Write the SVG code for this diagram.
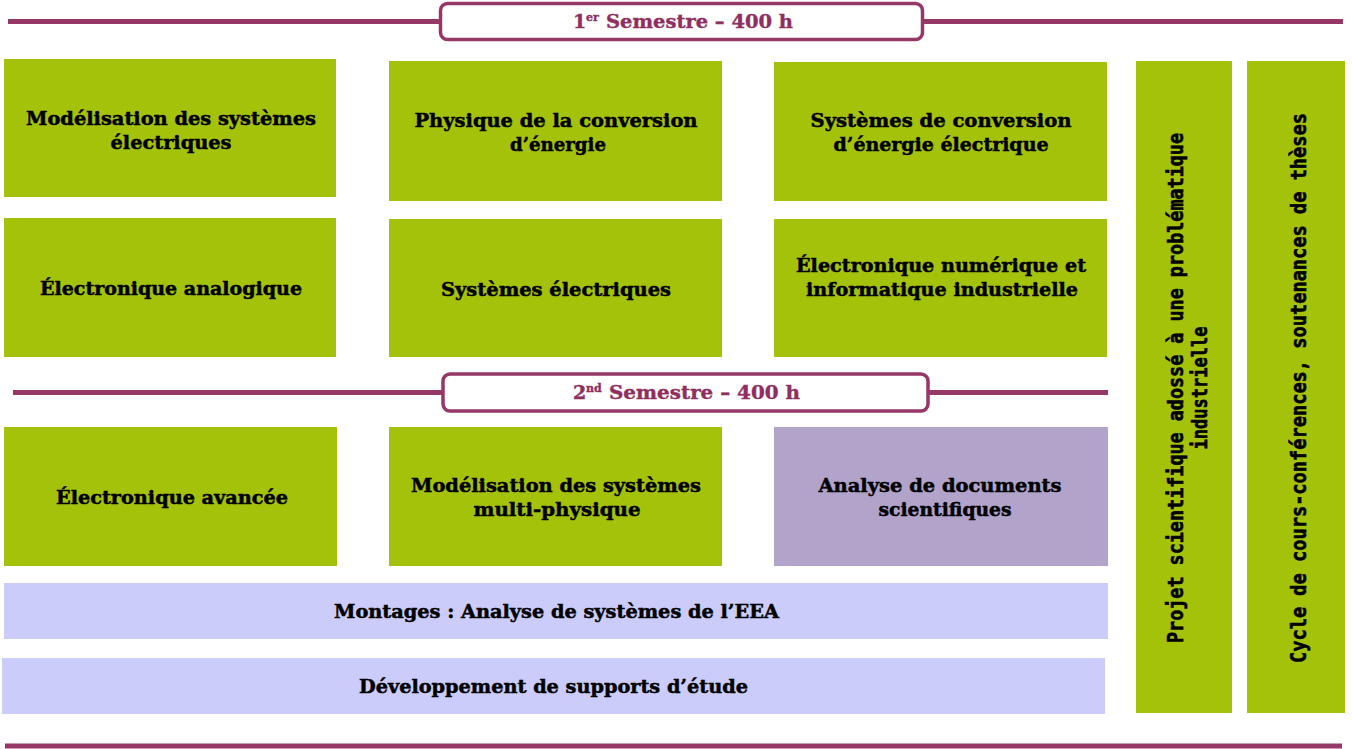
<svg xmlns="http://www.w3.org/2000/svg" width="1352" height="749" viewBox="0 0 1352 749">
<style>
.g{fill:#A5C20A}
.p{fill:#B1A3C9}
.l{fill:#CCCCFB}
.t{font-family:"DejaVu Serif","Liberation Serif",serif;font-weight:bold;font-size:19px;fill:#000;stroke:#000;stroke-width:0.5;text-anchor:middle}
.h{font-family:"DejaVu Serif","Liberation Serif",serif;font-weight:bold;font-size:19px;fill:#8E2F60;stroke:#8E2F60;stroke-width:0.4}
.v{font-family:"DejaVu Sans Mono","Liberation Mono",monospace;font-weight:bold;font-size:22px;fill:#000;stroke:#000;stroke-width:0.6;text-anchor:middle}
.rule{stroke:#963867;stroke-width:5;fill:none}
.hb{stroke:#963867;stroke-width:3.5;fill:#fff}
</style>
<rect width="1352" height="749" fill="#fff"/>
<g id="rules">
<line class="rule" x1="8" y1="21.5" x2="1343" y2="21.5"/>
<line class="rule" x1="13" y1="392.5" x2="1108" y2="392.5"/>
<line class="rule" x1="5" y1="746" x2="1342" y2="746"/>
</g>
<g id="header1">
<rect class="hb" x="440.5" y="3.5" width="482" height="36" rx="7"/>
<text class="h" x="573" y="28">1</text>
<text class="h" x="586" y="21" style="font-size:11px">er</text>
<text class="h" x="606" y="28" textLength="187" lengthAdjust="spacingAndGlyphs">Semestre – 400 h</text>
</g>
<g id="header2">
<rect class="hb" x="443" y="374" width="485" height="37" rx="7"/>
<text class="h" x="573" y="399">2</text>
<text class="h" x="586" y="392" style="font-size:11px">nd</text>
<text class="h" x="609" y="399" textLength="191" lengthAdjust="spacingAndGlyphs">Semestre – 400 h</text>
</g>
<g id="n1"><rect class="g" x="4" y="59" width="332" height="138"/>
<text class="t" x="171" y="125" textLength="290" lengthAdjust="spacingAndGlyphs">Modélisation des systèmes</text>
<text class="t" x="171" y="149" textLength="121" lengthAdjust="spacingAndGlyphs">électriques</text></g>
<g id="n2"><rect class="g" x="389" y="61" width="333" height="140"/>
<text class="t" x="556" y="127" textLength="283" lengthAdjust="spacingAndGlyphs">Physique de la conversion</text>
<text class="t" x="558" y="151" textLength="96" lengthAdjust="spacingAndGlyphs">d’énergie</text></g>
<g id="n3"><rect class="g" x="774" y="62" width="333" height="139"/>
<text class="t" x="941" y="127" textLength="261" lengthAdjust="spacingAndGlyphs">Systèmes de conversion</text>
<text class="t" x="941" y="151" textLength="215" lengthAdjust="spacingAndGlyphs">d’énergie électrique</text></g>
<g id="n4"><rect class="g" x="4" y="218" width="332" height="139"/>
<text class="t" x="171" y="295" textLength="262" lengthAdjust="spacingAndGlyphs">Électronique analogique</text></g>
<g id="n5"><rect class="g" x="389" y="219" width="333" height="138"/>
<text class="t" x="556" y="296" textLength="230" lengthAdjust="spacingAndGlyphs">Systèmes électriques</text></g>
<g id="n6"><rect class="g" x="774" y="219" width="333" height="138"/>
<text class="t" x="941" y="272" textLength="290" lengthAdjust="spacingAndGlyphs">Électronique numérique et</text>
<text class="t" x="942" y="296" textLength="272" lengthAdjust="spacingAndGlyphs">informatique industrielle</text></g>
<g id="n7"><rect class="g" x="4" y="427" width="333" height="139"/>
<text class="t" x="172" y="504" textLength="232" lengthAdjust="spacingAndGlyphs">Électronique avancée</text></g>
<g id="n8"><rect class="g" x="389" y="427" width="333" height="139"/>
<text class="t" x="556" y="492" textLength="290" lengthAdjust="spacingAndGlyphs">Modélisation des systèmes</text>
<text class="t" x="557" y="516" textLength="167" lengthAdjust="spacingAndGlyphs">multi-physique</text></g>
<g id="n9"><rect class="p" x="774" y="427" width="334" height="139"/>
<text class="t" x="940" y="492" textLength="243" lengthAdjust="spacingAndGlyphs">Analyse de documents</text>
<text class="t" x="945" y="516" textLength="133" lengthAdjust="spacingAndGlyphs">scientifiques</text></g>
<g id="n10"><rect class="l" x="4" y="583" width="1104" height="56"/>
<text class="t" x="556.5" y="618" textLength="445" lengthAdjust="spacingAndGlyphs">Montages : Analyse de systèmes de l’EEA</text></g>
<g id="n11"><rect class="l" x="2" y="658" width="1103" height="56"/>
<text class="t" x="553.5" y="693" textLength="389" lengthAdjust="spacingAndGlyphs">Développement de supports d’étude</text></g>
<g id="n12"><rect class="g" x="1136" y="61" width="96" height="652"/>
<text class="v" transform="translate(1183,388) rotate(-90)" textLength="510" lengthAdjust="spacingAndGlyphs">Projet scientifique adossé à une problématique</text>
<text class="v" transform="translate(1207,388) rotate(-90)" textLength="123" lengthAdjust="spacingAndGlyphs">industrielle</text></g>
<g id="n13"><rect class="g" x="1247" y="61" width="98" height="652"/>
<text class="v" transform="translate(1306,388) rotate(-90)" textLength="550" lengthAdjust="spacingAndGlyphs">Cycle de cours-conférences, soutenances de thèses</text></g>
</svg>
